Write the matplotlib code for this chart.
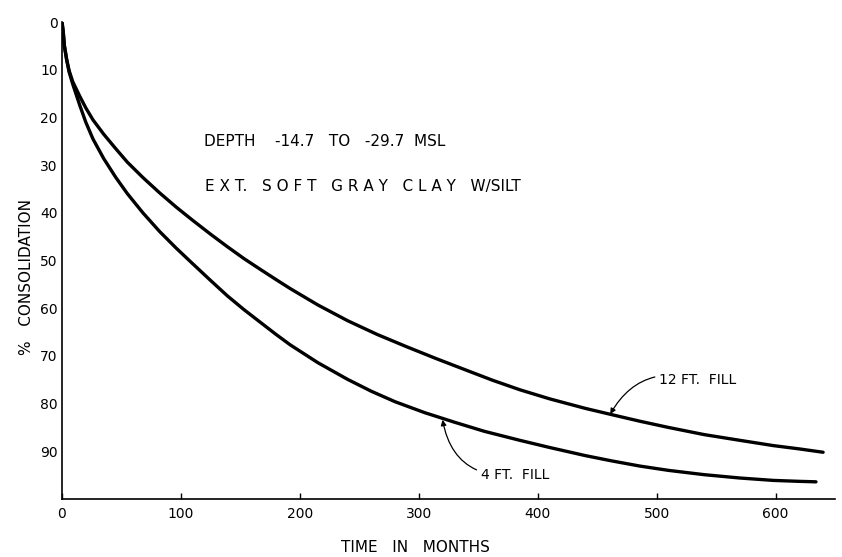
import matplotlib
matplotlib.use("Agg")
import matplotlib.pyplot as plt

# 12 ft fill curve (time in months, % consolidation)
t_12ft = [0, 1, 2, 4, 6, 9, 15, 20, 26, 35, 45, 55, 68, 82, 96, 110, 125, 139, 153, 167,
          180, 192, 215, 240, 265, 290, 315, 340, 362, 385, 410, 440, 462, 486, 510, 540,
          570, 598, 620, 640]
c_12ft = [0, 2, 5, 8, 10.2, 12.5, 15.6, 18, 20.5, 23.5, 26.5, 29.4, 32.6, 35.8, 38.8, 41.6,
          44.5, 47.1, 49.6, 51.9, 54.0, 55.9, 59.3, 62.6, 65.5, 68.1, 70.6, 73, 75.1, 77.1,
          79, 81, 82.3, 83.7, 85, 86.5, 87.7, 88.8, 89.5, 90.2]

# 4 ft fill curve
t_4ft = [0, 1, 2, 4, 6, 9, 15, 20, 26, 35, 45, 55, 68, 82, 96, 110, 125, 139, 153, 167,
         180, 192, 215, 240, 260, 280, 305, 330, 355, 385, 410, 440, 462, 486, 510, 540,
         570, 598, 620, 634]
c_4ft = [0, 2, 5, 8, 10.5, 13, 17.5, 21, 24.5, 28.6, 32.5, 36, 40, 43.9, 47.4, 50.7, 54.2,
         57.4, 60.3, 63, 65.5, 67.7, 71.4, 74.9, 77.4, 79.6, 81.9, 83.9, 85.8, 87.7, 89.2,
         90.9, 92, 93.1, 94, 94.9, 95.6, 96.1, 96.3, 96.4]

x_ticks = [0, 100, 200, 300, 400, 500, 600]
y_ticks = [0, 10, 20, 30, 40, 50, 60, 70, 80, 90]

plt.rcParams['font.family'] = ['DejaVu Sans']

fig = plt.figure(figsize=(8.42, 5.57), dpi=100)
ax = fig.add_axes([62/842, 58/557, 773/842, 477/557])

ax.plot(t_12ft, c_12ft, color='black', lw=2.4, solid_capstyle='round', solid_joinstyle='round')
ax.plot(t_4ft, c_4ft, color='black', lw=2.4, solid_capstyle='round', solid_joinstyle='round')

ax.set_xlim(0, 650)
ax.set_ylim(100, 0)
ax.set_xticks(x_ticks)
ax.set_yticks(y_ticks)
ax.set_xticklabels([str(v) for v in x_ticks], fontsize=10)
ax.set_yticklabels([str(v) for v in y_ticks], fontsize=10)
ax.tick_params(axis='x', direction='in', length=4, width=1, pad=6)
ax.tick_params(axis='y', length=0, pad=3)

for s in ['top', 'right']:
    ax.spines[s].set_visible(False)
for s in ['left', 'bottom']:
    ax.spines[s].set_linewidth(1.2)

ax.set_xlabel('TIME   IN   MONTHS', fontsize=11)
ax.xaxis.set_label_coords(0.457, -0.085)
ax.set_ylabel('%   CONSOLIDATION', fontsize=11)
ax.yaxis.set_label_coords(-0.036, 0.465)

ax.text(119, 25.0, 'DEPTH    -14.7   TO   -29.7  MSL', fontsize=11, va='center', ha='left')
ax.text(120, 34.4, 'E X T.   S O F T   G R A Y   C L A Y   W/SILT', fontsize=11, va='center', ha='left')

ax.annotate('12 FT.  FILL', xy=(461, 82.2), xytext=(502, 75), fontsize=10,
            va='center', ha='left',
            arrowprops=dict(arrowstyle='-|>', color='black', lw=0.9, mutation_scale=8,
                            connectionstyle='arc3,rad=0.4', shrinkA=1, shrinkB=0))
ax.annotate('4 FT.  FILL', xy=(320, 83.4), xytext=(352, 95), fontsize=10,
            va='center', ha='left',
            arrowprops=dict(arrowstyle='-|>', color='black', lw=0.9, mutation_scale=8,
                            connectionstyle='arc3,rad=-0.45', shrinkA=1, shrinkB=0))

fig.savefig('out.png', dpi=100)
